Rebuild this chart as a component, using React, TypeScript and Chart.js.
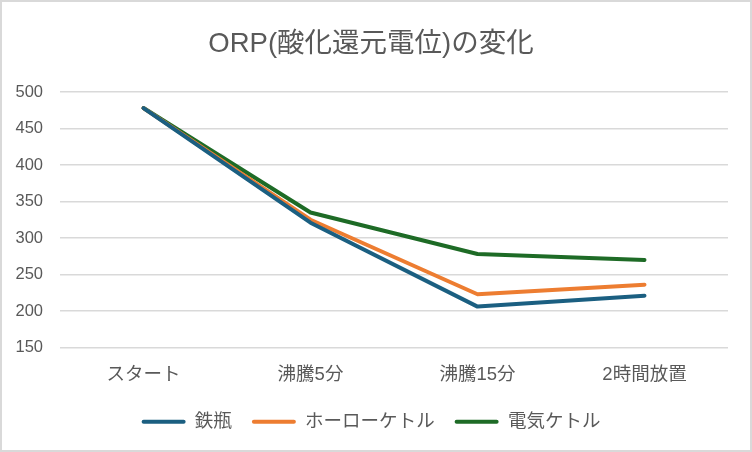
import { Chart, registerables } from "chart.js";
import { useEffect, useRef } from "react";

Chart.register(...registerables);

const categories = ["スタート", "沸騰5分", "沸騰15分", "2時間放置"];
const ironKettle = [478, 321, 206, 221];
const enamelKettle = [478, 325, 223, 236];
const electricKettle = [478, 335, 278, 270];
const seriesNames = ["鉄瓶", "ホーローケトル", "電気ケトル"];
const seriesColors = ["#1b5f81", "#ed7d31", "#1e6b26"];

const FONT = "'Liberation Sans', 'Noto Sans CJK JP', sans-serif";
const GRAY = "#595959";

export default function App() {
  const canvasRef = useRef<HTMLCanvasElement>(null);

  useEffect(() => {
    if (!canvasRef.current) return;
    const values = [ironKettle, enamelKettle, electricKettle];

    const chart = new Chart(canvasRef.current, {
      type: "line",
      data: {
        labels: categories,
        datasets: values.map((data, i) => ({
          label: seriesNames[i],
          data,
          borderColor: seriesColors[i],
          backgroundColor: seriesColors[i],
          borderWidth: 4,
          borderCapStyle: "round" as const,
          borderJoinStyle: "round" as const,
          pointRadius: 0,
          tension: 0,
        })),
      },
      options: {
        animation: false,
        responsive: false,
        layout: { padding: { left: 14, right: 24, bottom: 11 } },
        plugins: {
          title: {
            display: true,
            text: "ORP(酸化還元電位)の変化",
            color: GRAY,
            font: { family: FONT, size: 27.5, weight: "normal" },
            padding: { top: 28, bottom: 31 },
          },
          legend: {
            position: "bottom",
            labels: {
              color: GRAY,
              font: { family: FONT, size: 18.5 },
              boxWidth: 44,
              boxHeight: 4,
              padding: 20,
              useBorderRadius: true,
              borderRadius: 2,
              generateLabels: (c) =>
                c.data.datasets.map((ds, i) => ({
                  text: ds.label as string,
                  fillStyle: seriesColors[i],
                  strokeStyle: seriesColors[i],
                  lineWidth: 0,
                  borderRadius: 2,
                  datasetIndex: i,
                  hidden: false,
                  fontColor: GRAY,
                })),
            },
          },
          tooltip: { enabled: false },
        },
        scales: {
          x: {
            offset: true,
            grid: { display: false },
            border: { display: false },
            ticks: {
              color: GRAY,
              padding: 8,
              font: { family: FONT, size: 18.5 },
            },
            afterFit: (scale) => {
              scale.height = 45;
            },
          },
          y: {
            min: 150,
            max: 500,
            grid: { color: "#d9d9d9", lineWidth: 1.5, drawTicks: false },
            border: { display: false },
            ticks: {
              stepSize: 50,
              color: GRAY,
              padding: 17,
              font: { family: FONT, size: 16.5 },
            },
            afterFit: (scale) => {
              scale.width = 46;
            },
          },
        },
      },
    });

    return () => chart.destroy();
  }, []);

  return (
    <div style={{ position: "fixed", left: 0, top: 0, width: 752, height: 452, background: "#fff" }}>
      <canvas ref={canvasRef} width={752} height={452} style={{ display: "block" }} />
      <div
        style={{
          position: "absolute",
          inset: 0,
          border: "2px solid #d9d9d9",
          pointerEvents: "none",
        }}
      />
    </div>
  );
}
